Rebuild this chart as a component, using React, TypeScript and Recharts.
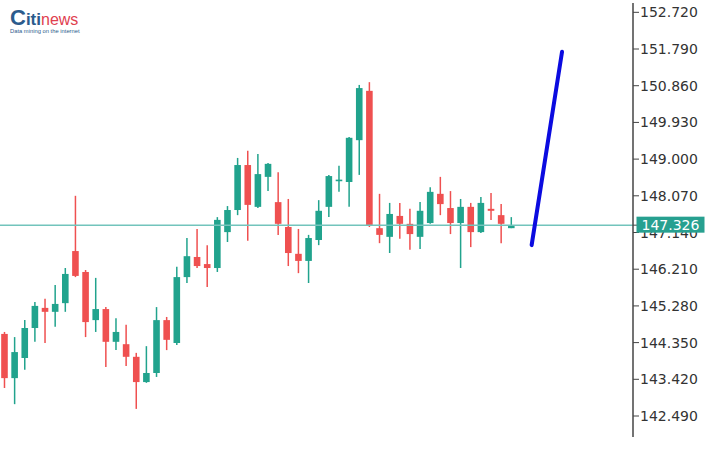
import React from "react"
import { ComposedChart, Bar, Line, XAxis, YAxis, ReferenceLine } from "recharts"

// candle values, one per bar from left to right
const opens = [
  144.57, 143.45, 143.96, 144.72, 145.23, 145.13, 145.35, 146.67, 146.14, 144.92,
  145.2, 144.37, 144.31, 143.99, 143.35, 143.58, 144.92, 144.34, 146.01, 146.52,
  146.34, 146.24, 147.15, 147.71, 148.85, 147.79, 148.55, 147.91, 147.28, 146.6,
  146.42, 146.95, 147.79, 148.45, 148.42, 149.48, 150.73, 147.25, 147.03, 147.56,
  147.36, 147.03, 147.38, 148.12, 147.76, 147.38, 147.79, 147.15, 147.74, 147.58, 147.25,
]
const highs = [
  144.62, 144.49, 144.92, 145.38, 145.46, 145.81, 146.24, 148.07, 146.19, 145.99,
  145.25, 144.97, 144.8, 144.09, 144.26, 145.25, 145.0, 146.27, 147.0, 147.23,
  146.82, 147.53, 147.81, 149.03, 149.21, 149.13, 148.9, 148.67, 147.99, 147.23,
  147.08, 147.96, 148.6, 148.83, 149.56, 150.88, 150.95, 148.12, 147.89, 147.89,
  147.74, 147.91, 148.29, 148.55, 148.19, 147.99, 147.89, 148.04, 148.14, 147.86, 147.53,
]
const lows = [
  143.2, 142.79, 143.66, 144.37, 144.34, 144.75, 145.13, 146.01, 144.49, 144.62,
  143.73, 144.16, 143.76, 142.67, 143.33, 143.48, 144.16, 144.29, 145.86, 146.24,
  145.76, 146.14, 146.9, 147.58, 146.93, 147.76, 148.19, 147.08, 146.29, 146.11,
  145.86, 146.82, 147.53, 148.17, 147.79, 148.6, 147.28, 146.87, 146.62, 146.98,
  146.7, 146.72, 147.36, 147.58, 147.1, 146.24, 146.77, 147.13, 147.46, 146.87, 147.25,
]
const closes = [
  143.45, 144.11, 144.72, 145.28, 145.13, 145.33, 146.09, 146.04, 144.87, 145.2,
  144.37, 144.62, 143.99, 143.35, 143.58, 144.92, 144.42, 146.01, 146.54, 146.29,
  146.24, 147.46, 147.71, 148.85, 147.84, 148.62, 148.88, 147.36, 146.62, 146.42,
  147.0, 147.69, 148.57, 148.48, 149.54, 150.8, 147.33, 147.08, 147.61, 147.36,
  147.1, 147.69, 148.17, 147.86, 147.38, 147.79, 147.15, 147.89, 147.69, 147.36, 147.33,
]

// the blue forecast stroke after the last candle
const arrowX = [52.05, 55.05]
const arrowY = [146.82, 151.72]

const yTicks = [142.49, 143.42, 144.35, 145.28, 146.21, 147.14, 148.07, 149.0, 149.93, 150.86, 151.79, 152.72]
const currentPrice = 147.326

const UP = "#21a38d"
const DOWN = "#ef5050"

const rows: any[] = opens.map((o, i) => ({
  i,
  o,
  h: highs[i],
  l: lows[i],
  c: closes[i],
  range: [lows[i], highs[i]],
}))
arrowX.forEach((x, k) => rows.push({ i: x, arrow: arrowY[k] }))

const Candle = (props: any) => {
  const { x, y, width, height, payload } = props
  if (!payload || payload.o == null || !isFinite(y) || !isFinite(height)) return <g />
  const { o, h, l, c } = payload
  const perUnit = h === l ? 0 : height / (h - l)
  const yOf = (v: number) => y + (h - v) * perUnit
  const cx = x + width / 2
  const color = c >= o ? UP : DOWN
  const top = yOf(Math.max(o, c))
  const bodyH = Math.max(1.6, yOf(Math.min(o, c)) - top)
  return (
    <g>
      <line x1={cx} x2={cx} y1={y} y2={y + height} stroke={color} strokeWidth={1.5} />
      <rect x={cx - 3.3} y={top} width={6.6} height={bodyH} fill={color} />
    </g>
  )
}

// axis labels; the current price tick is drawn last as a filled tag over the others
const AxisTick = (props: any) => {
  const { x, y, payload } = props
  const v = payload.value
  if (v === currentPrice) {
    return (
      <g>
        <rect x={x - 3.5} y={y - 8.5} width={68} height={16} fill="#27a090" />
        <text x={x + 1.5} y={y} dy="0.36em" fill="#fff" fontSize={14} fontFamily="DejaVu Sans">
          {v.toFixed(3)}
        </text>
      </g>
    )
  }
  return (
    <text x={x} y={y} dy="0.36em" fill="#333" fontSize={14} fontFamily="DejaVu Sans">
      {v.toFixed(3)}
    </text>
  )
}

export default function App() {
  return (
    <div style={{ position: "absolute", left: 0, top: 0, width: 721, height: 449, background: "#fff" }}>
      <ComposedChart width={721} height={449} data={rows} margin={{ top: 3, right: 0, bottom: 12, left: 0 }}>
        <XAxis dataKey="i" type="number" domain={[-0.4, 62.05]} allowDataOverflow hide />
        <YAxis
          orientation="right"
          width={88}
          domain={[141.958, 152.956]}
          allowDataOverflow
          ticks={[...yTicks, currentPrice]}
          tick={<AxisTick />}
          axisLine={{ stroke: "#444", strokeWidth: 1.5 }}
          tickLine={{ stroke: "#444" }}
          tickSize={6}
          tickMargin={1}
          interval={0}
        />
        <Bar dataKey="range" barSize={7} shape={<Candle />} isAnimationActive={false} />
        <ReferenceLine y={currentPrice} stroke="#72c4bc" strokeWidth={1.5} />
        <Line
          dataKey="arrow"
          type="linear"
          stroke="#0b0be0"
          strokeWidth={4}
          strokeLinecap="round"
          dot={false}
          connectNulls
          isAnimationActive={false}
        />
      </ComposedChart>
      <div style={{ position: "absolute", left: 10, top: 7, fontFamily: "Liberation Sans, Arial, sans-serif", lineHeight: 1 }}>
        <div style={{ whiteSpace: "nowrap" }}>
          <span style={{ color: "#2c5b8c", fontSize: 22, fontWeight: 700 }}>C</span>
          <span style={{ color: "#2c5b8c", fontSize: 17, fontWeight: 700 }}>iti</span>
          <span style={{ color: "#e0404f", fontSize: 16 }}>news</span>
        </div>
        <div style={{ color: "#2c5b8c", fontSize: 5.8, whiteSpace: "nowrap" }}>Data mining on the internet</div>
      </div>
    </div>
  )
}
